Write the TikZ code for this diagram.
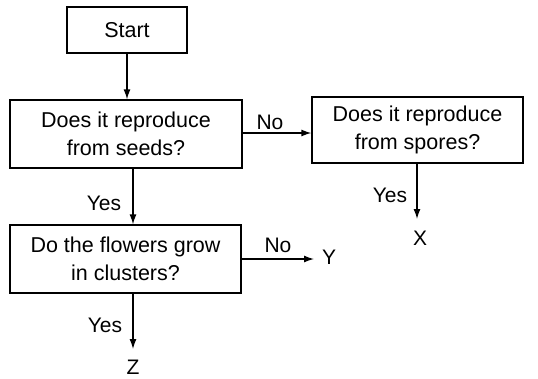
\documentclass[tikz,border=0pt]{standalone}
\usepackage{fontspec}
\setmainfont{Liberation Sans}
\usetikzlibrary{arrows.meta}
\begin{document}
\begin{tikzpicture}[x=1pt,y=-1pt,
  box/.style={draw,line width=1.3pt,align=center,inner sep=0pt,font=\fontsize{21.5}{28}\selectfont},
  lbl/.style={font=\fontsize{21}{24}\selectfont,inner sep=0pt},
  arr/.style={line width=1.3pt,-{Latex[length=10pt,width=7pt]}}]
\useasboundingbox[fill=white] (0,0) rectangle (538,378);
\node[box,minimum width=120pt,minimum height=46pt] (start) at (127,30) {Start};
\node[box,minimum width=232pt,minimum height=68pt] (seeds) at (126,134) {Does it reproduce\\from seeds?};
\node[box,minimum width=211pt,minimum height=66pt] (spores) at (417.5,130) {Does it reproduce\\from spores?};
\node[box,minimum width=231pt,minimum height=68pt] (flowers) at (125.5,259) {Do the flowers grow\\in clusters?};
\node[lbl] (X) at (420,238) {X};
\node[lbl] (Y) at (329,257) {Y};
\node[lbl] (Z) at (133,367) {Z};
\coordinate (xend) at (417,219);
\coordinate (zend) at (133,349);
\coordinate (yend) at (314,259);
\draw[arr] (start.south) -- (start.south |- seeds.north);
\draw[arr] (seeds.east |- 0,133) -- (spores.west |- 0,133);
\node[lbl] (no1) at (270,122) {No};
\draw[arr] (spores.south -| xend) -- (xend);
\node[lbl] (yes1) at (390,195) {Yes};
\draw[arr] ([xshift=7pt]seeds.south) -- ([xshift=7pt]seeds.south |- flowers.north);
\node[lbl] (yes2) at (104,203) {Yes};
\draw[arr] (flowers.east |- yend) -- (yend);
\node[lbl] (no2) at (278,245) {No};
\draw[arr] (flowers.south -| zend) -- (zend);
\node[lbl] (yes3) at (105,325) {Yes};
\end{tikzpicture}
\end{document}
